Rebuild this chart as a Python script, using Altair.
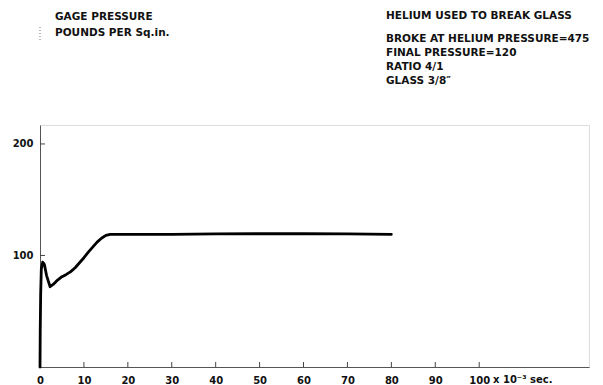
import altair as alt
import pandas as pd

# curve (time in 10^-3 s, gage pressure psi)
t_vals = [0, 0.05, 0.15, 0.3, 0.6, 1.0, 1.5, 2.3, 3.0, 4.0, 5.0, 6.0, 7.0, 8.0, 9.0,
          10.0, 11.0, 12.0, 13.0, 14.0, 15.0, 16.0, 18.0, 20, 30, 40, 50, 60, 70, 80]
p_vals = [0, 30, 65, 88, 94, 92, 82, 72, 74, 78, 81, 83, 85.5, 89, 93.5,
          98, 103, 107.5, 112, 115.5, 118, 119, 119, 119, 119, 119.3, 119.5, 119.5, 119.3, 119]

x_ticks = [10, 20, 30, 40, 50, 60, 70, 80, 90, 100]
y_ticks = [100, 200]

left_text = ["GAGE PRESSURE", "POUNDS PER Sq.in."]
right_text = ["HELIUM USED TO BREAK GLASS", "BROKE AT HELIUM PRESSURE=475",
              "FINAL PRESSURE=120", "RATIO 4/1", "GLASS 3/8\u2033"]
unit_text = "x 10\u207b\u00b3 sec."

FONT = "DejaVu Sans"
W, H = 549, 242

df = pd.DataFrame({"t": t_vals, "p": p_vals})
xs = alt.Scale(domain=[0, 125], nice=False)
ys = alt.Scale(domain=[0, 217], nice=False)

base = alt.Chart(df)

line = base.mark_line(color="black", strokeWidth=2.8, strokeJoin="round", strokeCap="round").encode(
    x=alt.X("t:Q", scale=xs, axis=alt.Axis(
        values=[0] + x_ticks, title=None, ticks=False, grid=False, domainColor="#555",
        domainWidth=1, labelFont=FONT, labelFontSize=10, labelFontWeight="bold",
        labelColor="#111", labelPadding=8, labelFlush=False)),
    y=alt.Y("p:Q", scale=ys, axis=alt.Axis(
        values=y_ticks, title=None, ticks=False, grid=False, domainColor="#555",
        domainWidth=1, labelFont=FONT, labelFontSize=10, labelFontWeight="bold",
        labelColor="#111", labelPadding=7)),
)

xt = alt.Chart(pd.DataFrame({"v": x_ticks})).mark_rule(color="#444", strokeWidth=1).encode(
    x=alt.X("v:Q", scale=xs), y=alt.value(H), y2=alt.value(H - 5))
yt = alt.Chart(pd.DataFrame({"v": y_ticks})).mark_rule(color="#444", strokeWidth=1).encode(
    y=alt.Y("v:Q", scale=ys), x=alt.value(0), x2=alt.value(5))

unit = alt.Chart(pd.DataFrame({"s": [unit_text]})).mark_text(
    font=FONT, fontSize=10, fontWeight="bold", align="left", baseline="middle", color="#111").encode(
    text="s:N", x=alt.value(453), y=alt.value(H + 13))

ldf = pd.DataFrame({"s": left_text, "yy": [-108.5, -92]})
ltxt = alt.Chart(ldf).mark_text(font=FONT, fontSize=10.5, fontWeight="bold", align="left",
                                baseline="middle", color="#111").encode(
    text="s:N", x=alt.value(15), y=alt.Y("yy:Q", scale=None))

rdf = pd.DataFrame({"s": right_text, "yy": [-108.7, -86.3, -72, -58, -44.5]})
rtxt = alt.Chart(rdf).mark_text(font=FONT, fontSize=10.5, fontWeight="bold", align="left",
                                baseline="middle", color="#111").encode(
    text="s:N", x=alt.value(346), y=alt.Y("yy:Q", scale=None))

dots = alt.Chart(pd.DataFrame({"a": [1]})).mark_rule(color="#777", strokeWidth=1, strokeDash=[1, 2]).encode(
    x=alt.value(0), y=alt.value(-98), y2=alt.value(-85))

chart = alt.layer(line, xt, yt, unit, ltxt, rtxt, dots).properties(
    width=W, height=H,
    autosize=alt.AutoSizeParams(type="none"),
    padding={"left": 32, "top": 117, "right": 6, "bottom": 18},
).configure_view(stroke=None).configure(background="white")

chart.save("out.html", embed_options={"renderer": "svg", "actions": False})
